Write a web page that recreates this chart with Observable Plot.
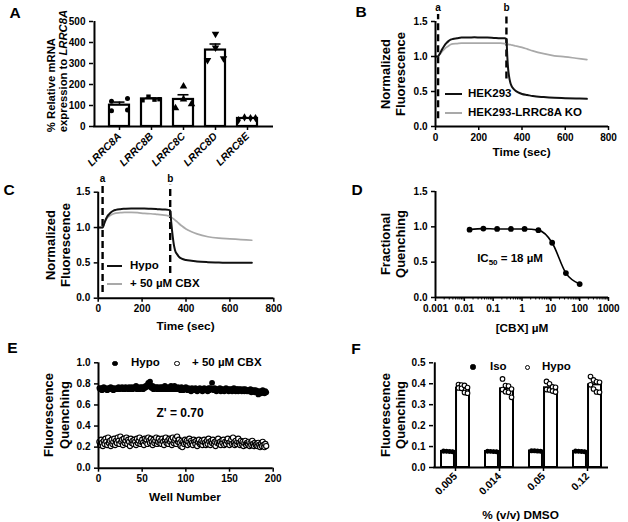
<!DOCTYPE html>
<html><head><meta charset="utf-8">
<script src="https://cdn.jsdelivr.net/npm/d3@7"></script>
<script src="https://cdn.jsdelivr.net/npm/@observablehq/plot@0.6"></script>
<style>
body{margin:0;background:#fff;}
#fig{position:relative;width:628px;height:522px;background:#fff;font-family:"Liberation Sans",Arial,sans-serif;font-weight:bold;color:#000;overflow:hidden}
#fig svg{position:absolute;overflow:visible}
</style></head><body><div id="fig"></div><script>
// ---------------- DATA ----------------
// A
const genes = ["LRRC8A","LRRC8B","LRRC8C","LRRC8D","LRRC8E"];
const mrnaReps = [[133,120,78,75],[142,130,128,125],[191,129,107,88],[441,375,324,316],[43,40,40,30]];
const yTicksA = [0,100,200,300,400,500];
// B & C
const times = [0,10,20,30,40,50,60,70,80,100,120,150,180,210,240,270,300,320,328,332,336,340,345,350,360,370,380,400,425,450,500,550,600,650,700];
const hekB = [1.00,1.00,1.04,1.10,1.15,1.19,1.22,1.24,1.25,1.26,1.27,1.27,1.275,1.27,1.27,1.265,1.26,1.26,1.25,1.00,0.82,0.72,0.64,0.59,0.54,0.51,0.49,0.465,0.45,0.435,0.42,0.41,0.405,0.40,0.395];
const koB = [1.00,1.00,1.03,1.07,1.10,1.13,1.15,1.17,1.18,1.185,1.19,1.19,1.19,1.19,1.19,1.19,1.19,1.185,1.18,1.18,1.175,1.17,1.17,1.165,1.16,1.15,1.145,1.13,1.105,1.08,1.04,1.01,0.995,0.975,0.955];
const hypoC = [1.00,1.00,1.00,1.08,1.15,1.19,1.22,1.24,1.25,1.26,1.265,1.27,1.27,1.27,1.265,1.26,1.255,1.25,1.24,1.10,0.97,0.86,0.75,0.68,0.62,0.58,0.56,0.54,0.53,0.52,0.51,0.505,0.50,0.50,0.50];
const cbxC = [1.00,1.00,1.00,1.07,1.13,1.16,1.18,1.195,1.205,1.21,1.215,1.215,1.21,1.20,1.195,1.185,1.175,1.165,1.16,1.15,1.14,1.13,1.12,1.105,1.08,1.05,1.025,0.98,0.94,0.91,0.87,0.85,0.84,0.83,0.82];
const markLabels = ["a","b"];
const markTimesB = [12,328];
const markTimesC = [20,328];
const markLowB = [0.11,0.68];
const markLowC = [0.08,0.35];
const yTicksBC = [0,0.5,1.0,1.5];
const xTicksBC = [0,200,400,600,800];
// D
const cbxConc = [0.0152,0.0457,0.137,0.412,1.23,3.70,11.1,33.3,100];
const fracQ = [0.96,0.975,0.97,0.97,0.97,0.953,0.775,0.345,0.19];
const xTicksD = [0.001,0.01,0.1,1,10,100,1000];
const xTickLabelsD = ["0.001","0.01","0.1","1","10","100","1000"];
// E
const hypoE = [
.76,.75,.76,.74,.76,.77,.75,.76,.75,.74,
.76,.75,.76,.77,.75,.76,.74,.76,.75,.75,
.76,.75,.77,.75,.76,.76,.77,.75,.76,.75,
.77,.76,.76,.75,.77,.76,.75,.77,.75,.76,
.77,.76,.78,.75,.77,.76,.75,.77,.76,.77,
.75,.77,.76,.78,.77,.79,.81,.78,.82,.77,
.76,.78,.75,.77,.76,.77,.75,.77,.75,.76,
.77,.75,.77,.75,.76,.78,.75,.77,.76,.75,
.77,.75,.78,.76,.75,.77,.78,.75,.76,.75,
.77,.75,.76,.74,.77,.75,.74,.76,.75,.77,
.75,.74,.76,.75,.75,.73,.76,.75,.75,.74,
.76,.75,.73,.75,.74,.76,.75,.75,.73,.75,
.76,.74,.75,.75,.73,.76,.74,.76,.75,.81,
.75,.74,.76,.75,.73,.75,.74,.75,.76,.73,
.75,.75,.74,.73,.75,.76,.74,.75,.73,.75,
.74,.75,.73,.75,.76,.74,.73,.75,.75,.73,
.75,.74,.75,.73,.74,.75,.73,.75,.74,.73,
.74,.73,.74,.75,.72,.74,.73,.74,.72,.74,
.72,.73,.70,.73,.72,.71,.73,.74,.72,.71,
.73,.72];
const cbxE = [
.25,.22,.27,.24,.21,.26,.23,.28,.25,.22,
.29,.24,.26,.21,.27,.23,.25,.28,.22,.26,
.24,.29,.26,.23,.30,.25,.27,.22,.28,.24,
.26,.29,.23,.27,.25,.21,.28,.24,.26,.23,
.27,.25,.22,.28,.24,.26,.29,.23,.25,.27,
.24,.22,.28,.25,.27,.23,.29,.26,.24,.28,
.25,.22,.27,.24,.26,.29,.23,.25,.28,.24,
.26,.23,.28,.25,.22,.27,.29,.24,.26,.23,
.28,.25,.27,.22,.29,.24,.26,.28,.23,.30,
.25,.27,.24,.21,.26,.20,.25,.23,.27,.24,
.26,.22,.25,.28,.23,.26,.24,.22,.27,.25,
.23,.26,.21,.25,.27,.23,.24,.26,.22,.25,
.27,.24,.22,.26,.23,.28,.25,.22,.26,.24,
.27,.23,.25,.21,.26,.24,.28,.23,.25,.22,
.26,.24,.27,.22,.25,.23,.26,.28,.24,.22,
.25,.27,.23,.29,.24,.22,.26,.23,.25,.28,
.24,.22,.26,.23,.25,.21,.24,.26,.22,.24,
.23,.25,.21,.24,.22,.26,.23,.21,.24,.22,
.23,.21,.24,.22,.20,.23,.21,.25,.22,.20,
.23,.21];
const yTicksE = [0,0.2,0.4,0.6,0.8,1.0];
const xTicksE = [0,50,100,150,200];
// F
const dmso = ["0.005","0.014","0.05","0.12"];
const isoF = [[.078,.076,.080,.075,.077,.079,.074,.076],[.077,.075,.079,.076,.078,.074,.076,.077],[.080,.078,.082,.077,.079,.076,.078,.081],[.078,.076,.079,.075,.077,.080,.076,.074]];
const hypoF = [[.396,.394,.392,.380,.378,.382,.355,.358],[.423,.391,.389,.375,.372,.359,.362,.335],[.411,.400,.383,.385,.370,.372,.360,.365],[.434,.418,.407,.409,.395,.375,.359,.361]];
const yTicksF = [0,0.1,0.2,0.3,0.4,0.5];

// ---------------- HELPERS ----------------
const fig = document.getElementById("fig");
const FONT = "Liberation Sans, Arial, sans-serif";
const baseStyle = {fontFamily: FONT, fontWeight: "bold", fontSize: "10px", color: "black", background: "transparent", overflow: "visible"};
const f1 = d3.format(".1f");
function place(svg, left, top){ svg.style.left = left + "px"; svg.style.top = top + "px"; fig.appendChild(svg); }
function addText(html, x, y, size, anchor){
  const d = document.createElement("div"); d.innerHTML = html;
  d.style.cssText = `position:absolute;left:${x}px;top:${y}px;white-space:nowrap;font-size:${size}px;line-height:1;transform:${anchor==="start"?"translate(0,-50%)":"translate(-50%,-50%)"}`;
  fig.appendChild(d);
}
function addYTitle(lines, cx, cy, size, lh, align){
  const d = document.createElement("div"); d.innerHTML = lines.join("<br>");
  d.style.cssText = `position:absolute;left:${cx}px;top:${cy}px;white-space:nowrap;font-size:${size}px;line-height:${lh}px;text-align:${align||"center"};transform:translate(-50%,-50%) rotate(-90deg)`;
  fig.appendChild(d);
}
function addLineKey(x, y, w, color){
  const d = document.createElement("div");
  d.style.cssText = `position:absolute;left:${x}px;top:${y-1}px;width:${w}px;height:2px;background:${color}`;
  fig.appendChild(d);
}
function addDotKey(x, y, r, filled){
  const d = document.createElement("div");
  d.style.cssText = `position:absolute;left:${x-r}px;top:${y-r}px;width:${2*r}px;height:${2*r}px;border-radius:50%;box-sizing:border-box;background:${filled?"#000":"#fff"};border:1.2px solid #000`;
  fig.appendChild(d);
}
function bandInfo(n, span, pi, po){ const step = span/(n - pi + 2*po); return {step, bw: step*(1-pi), first: step*po + step*(1-pi)/2}; }
const axY = (ticks, fmt) => Plot.axisY({ticks, tickFormat: fmt, tickSize: 4, tickPadding: 4, strokeWidth: 1.5, fontSize: 10, label: null});
const axX = (ticks, fmt) => Plot.axisX({ticks, tickFormat: fmt, tickSize: 4, tickPadding: 3, strokeWidth: 1.5, fontSize: 10, label: null});

// ---------------- PANEL A ----------------
{
  const P = {w:290, h:175, ml:93, mr:17, mt:21, mb:49};
  const pi = 0.36, po = 0.45;
  const bi = bandInfo(genes.length, P.w-P.ml-P.mr, pi, po);
  const triDown = {draw(ctx, size){ const y = -Math.sqrt(size/(Math.sqrt(3)*3)); ctx.moveTo(0,-y*2); ctx.lineTo(-Math.sqrt(3)*y, y); ctx.lineTo(Math.sqrt(3)*y, y); ctx.closePath(); }};
  const symbols = ["circle","square","triangle",triDown,"diamond"];
  const pxPerUnit = (P.h-P.mt-P.mb)/500;
  const patterns = {1:[0],2:[8,-8],3:[0,8,-8],4:[-3,8,3,-9]};
  const pts = [];
  genes.forEach((g,i)=>{
    const vals = mrnaReps[i];
    const idx = d3.range(vals.length).sort((a,b)=>vals[b]-vals[a]);
    let cl = [idx[0]];
    const flush = () => { const p = patterns[cl.length]; cl.forEach((j,k)=>pts.push({gene:g, v:vals[j], off:p[k], sym:symbols[i]})); };
    for (let k=1;k<idx.length;k++){ if ((vals[idx[k-1]]-vals[idx[k]])*pxPerUnit < 6) cl.push(idx[k]); else { flush(); cl=[idx[k]]; } }
    flush();
  });
  const sum = genes.map((g,i)=>{ const vs = mrnaReps[i]; return {gene:g, mean:d3.mean(vs), sem:d3.deviation(vs)/Math.sqrt(vs.length)}; });
  const dotMarks = d3.groups(pts, d=>d.gene, d=>d.off).flatMap(([g, byOff]) => byOff.map(([off, arr]) =>
    Plot.dot(arr, {x:"gene", y:"v", dx:off, symbol: arr[0].sym, r: (arr[0].sym==="triangle"||arr[0].sym===triDown) ? 2.8 : 2.5, fill:"black", stroke:"none"})));
  const svg = Plot.plot({
    width:P.w, height:P.h, marginLeft:P.ml, marginRight:P.mr, marginTop:P.mt, marginBottom:P.mb, style: baseStyle,
    x: {type:"band", domain: genes, paddingInner: pi, paddingOuter: po},
    y: {domain:[0,500]},
    marks: [
      Plot.barY(sum, {x:"gene", y:"mean", fill:"white", stroke:"black", strokeWidth:2.2}),
      Plot.ruleX(sum, {x:"gene", y1:"mean", y2:d=>d.mean+d.sem, strokeWidth:1.6}),
      Plot.tickY(sum, {x:"gene", y:d=>d.mean+d.sem, insetLeft:4.5, insetRight:4.5, strokeWidth:1.6}),
      ...dotMarks,
      axY(yTicksA, d=>String(d)),
      Plot.axisX({tickSize:4, tickPadding:4, tickRotate:-45, strokeWidth:1.5, fontSize:10.5, fontStyle:"italic", label:null}),
      Plot.ruleY([0], {strokeWidth:2}),
      Plot.ruleX([genes[0]], {dx: -bi.first, y1:0, y2:500, strokeWidth:2})
    ]
  });
  place(svg, 0, 0);
}

// ---------------- PANEL B / C ----------------
function tracePanel(P, left, top, blackVals, grayVals, markT, markLow){
  const rowsK = times.map((t,i)=>({t, v: blackVals[i]}));
  const rowsG = times.map((t,i)=>({t, v: grayVals[i]}));
  const marks = markT.map((t,i)=>({t, lab: markLabels[i], low: markLow[i]}));
  const svg = Plot.plot({
    width:P.w, height:P.h, marginLeft:P.ml, marginRight:P.mr, marginTop:P.mt, marginBottom:P.mb, style: baseStyle,
    x: {domain:[0,800]}, y: {domain:[0,1.5]},
    marks: [
      Plot.ruleX(marks, {x:"t", y1:"low", y2:1.6, strokeWidth:2.4, strokeDasharray:"7,4"}),
      Plot.text(marks, {x:"t", y:1.69, text:"lab", fontSize:10}),
      Plot.line(rowsG, {x:"t", y:"v", stroke:"#a9a9a9", strokeWidth:1.7, curve:"monotone-x"}),
      Plot.line(rowsK, {x:"t", y:"v", stroke:"#111", strokeWidth:2, curve:"monotone-x"}),
      axY(yTicksBC, f1), axX(xTicksBC, d=>String(d)),
      Plot.ruleY([0], {strokeWidth:2}), Plot.ruleX([0], {strokeWidth:2})
    ]
  });
  place(svg, left, top);
}
tracePanel({w:308,h:170,ml:115,mr:20,mt:21,mb:44}, 320, 0, hekB, koB, markTimesB, markLowB);
tracePanel({w:320,h:170,ml:97.7,mr:46.7,mt:21.7,mb:42.3}, 0, 170, hypoC, cbxC, markTimesC, markLowC);

// ---------------- PANEL D ----------------
{
  const P = {w:308,h:170,ml:115,mr:20,mt:21,mb:43};
  const rows = cbxConc.map((c,i)=>({c, q: fracQ[i]}));
  const minor = []; for (let e=-3;e<3;e++) for (let k=2;k<10;k++) minor.push(k*Math.pow(10,e));
  const svg = Plot.plot({
    width:P.w, height:P.h, marginLeft:P.ml, marginRight:P.mr, marginTop:P.mt, marginBottom:P.mb, style: baseStyle,
    x: {type:"log", domain:[0.001,1000]}, y: {domain:[0,1.5]},
    marks: [
      Plot.line(rows, {x:"c", y:"q", strokeWidth:1.6, curve:"monotone-x"}),
      Plot.dot(rows, {x:"c", y:"q", r:2.9, fill:"black"}),
      axY(yTicksBC, f1),
      axX(xTicksD, d=>xTickLabelsD[xTicksD.indexOf(d)]),
      Plot.axisX({ticks: minor, tickSize:2.5, tickFormat:()=>"", strokeWidth:1, label:null}),
      Plot.ruleY([0], {strokeWidth:2}), Plot.ruleX([0.001], {strokeWidth:2})
    ]
  });
  place(svg, 320, 170);
}

// ---------------- PANEL E ----------------
{
  const P = {w:320,h:182,ml:98,mr:47.3,mt:22.3,mb:54.3};
  const rowsH = hypoE.map((v,i)=>({well:i+1, v}));
  const rowsC = cbxE.map((v,i)=>({well:i+1, v}));
  const svg = Plot.plot({
    width:P.w, height:P.h, marginLeft:P.ml, marginRight:P.mr, marginTop:P.mt, marginBottom:P.mb, style: baseStyle,
    x: {domain:[0,200]}, y: {domain:[0,1]},
    marks: [
      Plot.dot(rowsC, {x:"well", y:"v", r:2.6, fill:"white", stroke:"black", strokeWidth:1.1}),
      Plot.dot(rowsH, {x:"well", y:"v", r:2.9, fill:"black"}),
      axY(yTicksE, f1), axX(xTicksE, d=>String(d)),
      Plot.ruleY([0], {strokeWidth:2}), Plot.ruleX([0], {strokeWidth:2})
    ]
  });
  place(svg, 0, 340);
}

// ---------------- PANEL F ----------------
{
  const P = {w:308,h:182,ml:113,mr:20,mt:22.3,mb:55};
  const pi = 0.37, po = 0.15;
  const bi = bandInfo(dmso.length, P.w-P.ml-P.mr, pi, po);
  const half = bi.bw/2;
  const sumIso = dmso.map((d,i)=>({dmso:d, mean:d3.mean(isoF[i])}));
  const sumHyp = dmso.map((d,i)=>({dmso:d, mean:d3.mean(hypoF[i])}));
  const colOff = [-4.5,-1.5,1.5,4.5];
  function ptsOf(src){
    const out = [];
    dmso.forEach((d,i)=>{ const vs = src[i]; d3.range(vs.length).sort((a,b)=>vs[b]-vs[a]).forEach((j,k)=>out.push({dmso:d, v:vs[j], col:k%4})); });
    return out;
  }
  const isoPts = ptsOf(isoF), hypPts = ptsOf(hypoF);
  const cIso = -(half+1)/2, cHyp = (half+1)/2;
  const dots = [];
  for (let c=0;c<4;c++){
    dots.push(Plot.dot(isoPts.filter(p=>p.col===c), {x:"dmso", y:"v", dx:cIso+colOff[c], r:2.2, fill:"black"}));
    dots.push(Plot.dot(hypPts.filter(p=>p.col===c), {x:"dmso", y:"v", dx:cHyp+colOff[c], r:2.3, fill:"white", stroke:"black", strokeWidth:1.1}));
  }
  const svg = Plot.plot({
    width:P.w, height:P.h, marginLeft:P.ml, marginRight:P.mr, marginTop:P.mt, marginBottom:P.mb, style: baseStyle,
    x: {type:"band", domain: dmso, paddingInner: pi, paddingOuter: po}, y: {domain:[0,0.5]},
    marks: [
      Plot.barY(sumIso, {x:"dmso", y:"mean", insetRight: half+1, fill:"white", stroke:"black", strokeWidth:2}),
      Plot.barY(sumHyp, {x:"dmso", y:"mean", insetLeft: half+1, fill:"white", stroke:"black", strokeWidth:2}),
      ...dots,
      axY(yTicksF, f1),
      Plot.axisX({tickSize:4, tickPadding:3, tickRotate:-45, strokeWidth:1.5, fontSize:10.5, label:null}),
      Plot.ruleY([0], {strokeWidth:2}),
      Plot.ruleX([dmso[0]], {dx:-bi.first, y1:0, y2:0.5, strokeWidth:2})
    ]
  });
  place(svg, 320, 340);
}

// ---------------- TEXT OVERLAYS ----------------
[["A",15,13],["B",361,12],["C",9,190],["D",357,190],["E",12.5,348],["F",356,349]].forEach(([t,x,y])=>addText(t,x,y,15.5));
addYTitle(["% Relative mRNA","expression to <i>LRRC8A</i>"], 57, 71, 11.3, 12, "left");
addYTitle(["Normalized","Fluorescence"], 392.5, 73.5, 13, 15);
addYTitle(["Normalized","Fluorescence"], 57.5, 244.7, 13, 15);
addYTitle(["Fractional","Quenching"], 392.5, 244, 13, 15);
addYTitle(["Fluorescence","Quenching"], 56.5, 415, 13, 16);
addYTitle(["Fluorescence","Quenching"], 392.5, 414.7, 13, 15);
addText("Time (sec)", 521.5, 152.5, 11.8);
addText("Time (sec)", 185.5, 326.5, 11.8);
addText("[CBX] µM", 522, 329, 11.8);
addText("Well Number", 185, 497.5, 11.8);
addText("% (v/v) DMSO", 520.5, 516, 11.8);
// legends
addLineKey(445, 94.3, 17, "#111"); addText("HEK293", 468, 94.3, 11.5, "start");
addLineKey(445, 113.3, 17, "#a9a9a9"); addText("HEK293-LRRC8A KO", 468, 113.3, 11.5, "start");
addLineKey(107, 265.5, 15, "#111"); addText("Hypo", 130, 265.5, 11.5, "start");
addLineKey(107, 284, 15, "#a9a9a9"); addText("+ 50 µM CBX", 130, 284, 11.5, "start");
addDotKey(115, 363.3, 2.7, true); addText("Hypo", 131, 363.3, 11.5, "start");
addDotKey(177, 363.3, 2.6, false); addText("+ 50 µM CBX", 192, 363.3, 11.5, "start");
addDotKey(473, 367, 2.6, true); addText("Iso", 490, 367, 11.5, "start");
addDotKey(527, 367, 2.5, false); addText("Hypo", 542, 367, 11.5, "start");
addText("IC<sub style='font-size:8px;vertical-align:-3px'>50</sub> = 18 µM", 510, 260, 11.5);
addText("Z' = 0.70", 180, 412.5, 12);
</script></body></html>
